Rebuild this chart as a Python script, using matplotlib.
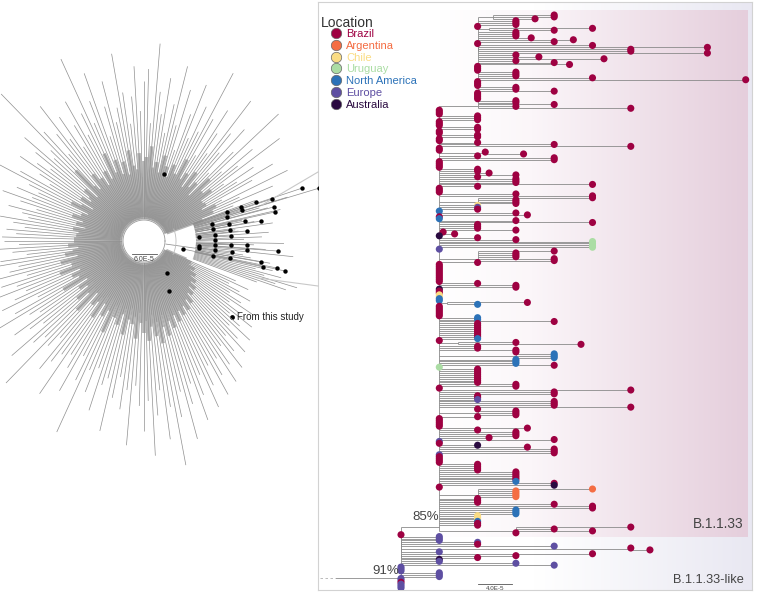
"""Phylogeny figure: radial overview (left) and the B.1.1.33 clade (right)."""

import matplotlib

matplotlib.use("Agg")  # headless
import matplotlib.pyplot as plt
import numpy as np
from matplotlib.collections import LineCollection
from matplotlib.colors import LinearSegmentedColormap
from matplotlib.lines import Line2D

plt.rcParams["font.family"] = ["Liberation Sans", "DejaVu Sans"]

W, H = 758, 593

# ---------------------------------------------------------------- data
locations = ["Brazil", "Argentina", "Chile", "Uruguay", "North America", "Europe", "Australia"]
loc_codes = ["B", "A", "C", "U", "N", "E", "O"]
loc_colors = ["#9e0142", "#f46d43", "#fadc84", "#abdda4", "#2c72b8", "#5e4fa2", "#2a0a40"]

# tree written as (branch length, [children]); a tip is "<location><length>[x<count>]"
top_clade = (1, [
    (0.4, ["B1.6x2", "B1.1"]),
    "B1x3", "B0",
    (0.3, ["B2.7", "B1.7"]),
    "B1x3", "B1.4", "B2.5", "B2",
    "B0", "B3",
    (0, ["B6", "B4x2"]),
    "B6",
    "B1", "B1.6", "B3.3", "B1", "B2", "B2.4",
    "B0x3",
    "B1x3", "B3",
    "B7",
    "B0x3",
    "B1x2", "B2",
    "B0x4", "B1x2", "B2",
    "B1", "B4",
])

backbone = [
    "B0x3", "B1x3", "B0x3", "B1x2", "B0x2", "B1x2", "B0x2", "B1",
    "B3", "B5",
    "B0x2", (1.2, ["B0", "B1"]), "B1", "B3x2",
    "B0x4", "B1x2", "B1.3", "B2",
    "B1", "B2x3", "B4", "B1",
    "B0x3", "B2", "B4",
    (1, ["B3", "B1x3"]), "C1", "E1", "B1",
    "N0", "B2", "B2.3", "B0", "N0", "B2", "B4",
    "B1x3", "B2", (0.1, ["B0", "B0.3"]), "O0",
    "B1", "B2", "U4x4", "E0",
    (1, ["B2", "B1x3", "B2x2"]), "B1",
    "B0x10", "B1", "B2x2",
    "O0", "B0x2", "C0x2", "N0x2", (0.2, ["B2.1", "N0.8"]),
    "B0x6", "N1x2", "B3",
    "B1x8", "N1", "B0",
    (0.5, ["B1.5", "B3.2"]), "B1x2", "B2",
    (2, ["B0", "N1x3"]), "N2x3", "B3",
    "U0", "B1x8", "B2", "B2", "B0",
    "B5", "B3x2", "B1x2", "E1", "B3x3", "B5",
    (1, ["B0", "B1x3"]), "B1", "B0x5",
    "B2.3", "B1", "B2x3", "B1.3", "B3",
    "E0", "B0", "O1", "B2.3", "B3x3", "E0", "B0x4",
    "B1x4", "B2x5", "N2", "B3", "O3", "B0",
    (1, ["A3", "A1x4"]), "B1x3", "B3",
    "B4x2", "N2x3", "C1x3", "N1", "B1x2",
]

tail_clade = (2, ["B3", "B1", "B2", "B0"])

like_upper = (0, ["B0", "E1x3", "E2", "B2", "E4", (6, ["B0", "B0.5"]), "E1"])
like_middle = (0, ["B5", "B3", "B2"])
like_tips = ["O1", "E1", "E3", "E4", "E0x3", "E1x3", "E0x2", "B0", "E0x3"]

support_85 = "85%"
support_91 = "91%"
scale_right = (0.9, "4.0E-5")

# radial overview: tip distances (arbitrary units) for evenly spread branches per sector
sector_angles = [(20, 90), (90, 180), (180, 270), (270, 338)]
radial_ne = [118, 96, 140, 105, 160, 88, 124, 150, 110, 132, 98, 170, 120, 142, 104, 185,
             126, 94, 150, 116, 138, 176, 108, 130, 155, 100, 140, 190, 122, 148, 112, 168,
             135, 96, 158, 120, 180, 140, 110, 165, 128, 150, 198, 118, 172]
radial_nw = [160, 130, 175, 145, 118, 150, 190, 136, 122, 165, 140, 110, 178, 150, 128, 200,
             142, 120, 160, 135, 112, 150, 126, 170, 138, 115, 148, 205, 130, 122, 158, 140,
             118, 132, 150, 124, 110, 142, 165, 128, 116, 138, 120, 150, 130, 112, 140, 125,
             118, 146, 132, 120, 138, 128, 142]
radial_sw = [140, 125, 150, 132, 118, 145, 160, 128, 138, 170, 122, 150, 135, 180, 128, 142,
             158, 120, 148, 190, 136, 126, 160, 144, 130, 175, 150, 138, 198, 142, 128, 165,
             152, 140, 185, 135, 148, 172, 130, 155, 210, 140, 162, 135, 178, 150, 142, 195,
             160, 138, 170, 150, 205, 145, 165]
radial_se = [190, 160, 215, 175, 150, 200, 168, 228, 180, 155, 205, 170, 150, 190, 165, 145,
             182, 160, 140, 175, 155, 138, 168, 150, 130, 160, 142, 125, 150, 135, 120, 145,
             128, 112, 138, 120, 105, 130, 115, 100, 122, 108, 95, 115, 100]
# internal (shared) branch depth for the same branches
inner_ne = [62, 48, 75, 55, 80, 40, 66, 72, 58, 70, 45, 84, 60, 76, 52, 90, 64, 44, 78, 58,
            70, 86, 50, 66, 80, 46, 72, 92, 60, 74, 54, 82, 68, 44, 78, 60, 88, 70, 52, 80,
            64, 74, 95, 56, 84]
inner_nw = [80, 64, 88, 72, 56, 76, 92, 68, 58, 82, 70, 52, 86, 74, 62, 96, 70, 58, 80, 66,
            54, 76, 60, 84, 68, 56, 74, 98, 64, 58, 78, 70, 56, 66, 76, 60, 52, 72, 82, 62,
            56, 68, 58, 76, 64, 54, 70, 60, 56, 72, 66, 58, 68, 62, 70]
inner_sw = [70, 60, 76, 66, 56, 72, 80, 62, 68, 86, 58, 76, 66, 90, 62, 70, 80, 58, 74, 94,
            68, 60, 80, 72, 64, 88, 76, 68, 96, 70, 62, 82, 76, 70, 92, 66, 74, 86, 64, 78,
            100, 70, 82, 66, 88, 76, 70, 96, 80, 68, 84, 76, 98, 72, 82]
inner_se = [92, 80, 100, 86, 74, 96, 82, 104, 88, 76, 98, 84, 74, 92, 80, 70, 88, 78, 68, 84,
            76, 66, 82, 72, 62, 78, 68, 60, 72, 64, 56, 70, 62, 54, 66, 58, 50, 62, 54, 46,
            58, 50, 44, 52, 46]

# highlighted wedge: (angle deg, distance) of sequences from this study
study_angle = [18.5, 16.8, 18.2, 19.2, 19.3, 17.6, 19.3, 16.1, 14.7, 12.5, 11.2, 9.7, 14.0,
               11.3, 9.9, 7.3, 5.6, 4.2, 4.8, 0.8, 3.3, -5.2, -3.2, -2.6, -2.2, -5.0, -4.3,
               -7.3, -11.6, -7.2, -7.1, -12.3, -11.2, -10.2, -12.3, -11.5, -12.0,
               73.4, -54.3, -63.4]
study_dist = [167, 183, 135, 119, 103, 103, 88, 86, 134, 134, 103, 119, 70, 87, 70, 87, 103,
              55, 71, 71, 87, 55, 71, 87, 103, 103, 134, 55, 40, 72, 89, 71, 88, 119, 122,
              136, 144, 70, 39, 56]
wedge_angle = [17, 16, 15, 13, 12, 10, 8, 7, 6, 4, 2, 1, -1, -2, -4, -6, -8, -9, -10, -13,
               -14, -15, -16, -17, -18, -19, -20]
wedge_dist = [150, 120, 128, 140, 100, 112, 130, 92, 95, 125, 118, 100, 140, 110, 122, 150,
              100, 108, 128, 132, 115, 142, 125, 160, 138, 150, 120]
scale_left = (25, "6.0E-5")

# ---------------------------------------------------------------- tree layout


def expand(kids):
    out = []
    for k in kids:
        if isinstance(k, str):
            code, rest, n = k[0], k[1:], 1
            if "x" in rest:
                rest, n = rest.split("x")
            out += [(code, float(rest))] * int(n)
        else:
            out.append(k)
    return out


def layout(node, x_node, st):
    ys = []
    for k in expand(node[1]):
        if isinstance(k[1], list):
            xc = x_node + k[0]
            yc = layout(k, xc, st)
        else:
            xc = x_node + k[1]
            yc = st["n"]
            st["n"] += 1
            st["tips"].append((xc, yc, k[0]))
        if xc > x_node:
            st["h"].append([(x_node, yc), (xc, yc)])
        ys.append(yc)
    st["v"].append([(x_node, min(ys)), (x_node, max(ys))])
    y = ys[0]  # ladderised polytomy: node sits low in its group
    for yk in ys[1:]:
        y = (y + yk) / 2
    return y


clade_33 = (1, [top_clade] + backbone + [tail_clade])
root = (0, [clade_33, like_upper, like_middle] + like_tips)

st = {"n": 0, "tips": [], "h": [], "v": []}
y_root = layout(root, 0.0, st)
n_tips = st["n"]
y_33 = [h[0][1] for h in st["h"] if h[0][0] == 0.0 and h[1][0] == 1.0][0]
n_like = len(expand(like_upper[1]) + expand(like_middle[1]) + expand(like_tips)) + 1
n_33 = n_tips - n_like

# ---------------------------------------------------------------- figure
fig = plt.figure(figsize=(W / 100, H / 100), dpi=100)

# right panel: x in column units (col 0 at px 401, 38.3 px per unit)
axr = fig.add_axes([318 / W, 1 - 590 / H, 434 / W, 588 / H])
px_col = 38.3
x_lo, x_hi = (318 - 401) / px_col, (752 - 401) / px_col
step = (588 - 15) / (n_tips - 1)
y_hi, y_lo = n_tips - 1 + 2 / step, -13 / step
axr.set_xticks([])
axr.set_yticks([])
for s in axr.spines.values():
    s.set_color("#d2d2d2")
    s.set_linewidth(0.8)

grad = np.linspace(0, 1, 256)[None, :]
lav = LinearSegmentedColormap.from_list("lav", ["#ffffff", "#ffffff", "#e9e8f2"])
axr.imshow(grad, cmap=lav, extent=(x_lo, x_hi, y_hi, y_lo), aspect="auto", zorder=0)
pink = LinearSegmentedColormap.from_list("pink", [(0, "#ffffff"), (0.3, "#fbf6f9"), (1, "#e5cedc")])
axr.imshow(grad, cmap=pink, extent=(1.0, 9.06, n_33 + 1.0, -2.6), aspect="auto", zorder=0)
axr.set_xlim(x_lo, x_hi)
axr.set_ylim(y_hi, y_lo)

axr.add_collection(LineCollection(st["h"], colors="#8a8a8a", linewidths=0.6, zorder=1))
axr.add_collection(LineCollection(st["v"], colors="#8a8a8a", linewidths=0.6, zorder=1))
axr.plot([x_lo + 0.05, -1.7], [y_root - 4, y_root - 4], color="#b0b0b0", lw=0.6,
         ls=(0, (3, 3)), zorder=1)
axr.plot([-1.7, 0], [y_root - 4, y_root - 4], color="#8a8a8a", lw=0.6, zorder=1)

tx = np.array([t[0] for t in st["tips"]])
ty = np.array([t[1] for t in st["tips"]])
tc = [loc_colors[loc_codes.index(t[2])] for t in st["tips"]]
axr.scatter(tx, ty, s=26, c=tc, linewidths=0, zorder=3)

axr.text(0.98, y_33 - 2, support_85, ha="right", va="bottom", fontsize=9.5, color="#444444")
axr.text(-0.05, y_root - 5, support_91, ha="right", va="bottom", fontsize=9.5, color="#444444")
axr.text(8.95, n_33 - 2, "B.1.1.33", ha="right", va="bottom", fontsize=9.8, color="#444444")
axr.text(8.95, n_tips - 5, "B.1.1.33-like", ha="right", va="center", fontsize=9.2, color="#444444")

sb_len, sb_text = scale_right
axr.plot([2.0, 2.0 + sb_len], [n_tips - 3, n_tips - 3], color="#555555", lw=0.6)
axr.text(2.0 + sb_len / 2, n_tips - 2.2, sb_text, ha="center", va="top", fontsize=4.5, color="#444444")

# legend: title sits left of the indented markers
fig.text(321 / W, 1 - 23 / H, "Location", ha="left", va="center", fontsize=10, color="#333333")
handles = [Line2D([], [], ls="", marker="o", markersize=7.5, markerfacecolor=c,
                  markeredgecolor="#666666", markeredgewidth=0.5) for c in loc_colors]
leg = fig.legend(handles, locations, loc="upper left",
                 bbox_to_anchor=(332 / W, 1 - 29 / H), frameon=False, fontsize=8,
                 handlelength=0.8, handletextpad=0.5, labelspacing=0.16, borderpad=0.0,
                 borderaxespad=0.0)
for txt, c in zip(leg.get_texts(), loc_colors):
    txt.set_color(c)

# left panel: radial overview centred at px (144, 241)
axl = fig.add_axes([0, 0, 318 / W, 1])
axl.set_xlim(-144, 174)
axl.set_ylim(-352, 241)
axl.axis("off")
r0 = 21
outer, inner = [], []
sectors = zip(sector_angles, [radial_ne, radial_nw, radial_sw, radial_se],
              [inner_ne, inner_nw, inner_sw, inner_se])
for (a0, a1), lens, ins in sectors:
    angs = np.radians(np.linspace(a0, a1, len(lens), endpoint=False))
    for a, L, r_in in zip(angs, lens, ins):
        c, s = np.cos(a), np.sin(a)
        outer.append([(r0 * c, r0 * s), (L * c, L * s)])
        inner.append([(r0 * 1.15 * c, r0 * 1.15 * s), (r_in * c, r_in * s)])
axl.add_collection(LineCollection(inner, colors="#b4b4b4", linewidths=2.6, zorder=1))
axl.add_collection(LineCollection(outer, colors="#8f8f8f", linewidths=0.5, zorder=2))

wsegs = []
for a, L in zip(np.radians(study_angle[:37] + wedge_angle), study_dist[:37] + wedge_dist):
    wsegs.append([(52 * np.cos(a), 52 * np.sin(a)), (L * np.cos(a), L * np.sin(a))])
axl.add_collection(LineCollection(wsegs, colors="#8f8f8f", linewidths=0.5, zorder=2))
a_stem = np.radians(-8)
axl.plot([r0 * np.cos(a_stem), 52 * np.cos(a_stem)], [r0 * np.sin(a_stem), 52 * np.sin(a_stem)],
         color="#8f8f8f", lw=0.55)
arc = np.radians(np.linspace(-25, 22, 50))
axl.plot(32 * np.cos(arc), 32 * np.sin(arc), color="#bdbdbd", lw=0.6)
circ = np.radians(np.linspace(0, 360, 200))
axl.fill(r0 * np.cos(circ), r0 * np.sin(circ), color="white", zorder=3)
axl.plot(r0 * np.cos(circ), r0 * np.sin(circ), color="#9a9a9a", lw=0.6, zorder=3)

sa = np.radians(study_angle)
axl.scatter(np.array(study_dist) * np.cos(sa), np.array(study_dist) * np.sin(sa),
            s=10, color="black", linewidths=0, zorder=4)

sl_len, sl_text = scale_left
axl.plot([-sl_len / 2, sl_len / 2], [-13, -13], color="#555555", lw=0.6, zorder=4)
axl.text(0, -15, sl_text, ha="center", va="top", fontsize=5, color="#444444", zorder=4)

axl.scatter([88], [-76], s=12, color="black", linewidths=0)
axl.text(93, -76, "From this study", ha="left", va="center", fontsize=7, color="#222222")

# zoom connectors from the wedge to the clade panel
axl.plot([118, 174], [36, 69], color="#c8c8c8", lw=0.8, clip_on=False)
axl.plot([114, 174], [-37, -45], color="#c8c8c8", lw=0.8, clip_on=False)

fig.savefig("out.png", dpi=100)
plt.close(fig)
print("Saved out.png")
